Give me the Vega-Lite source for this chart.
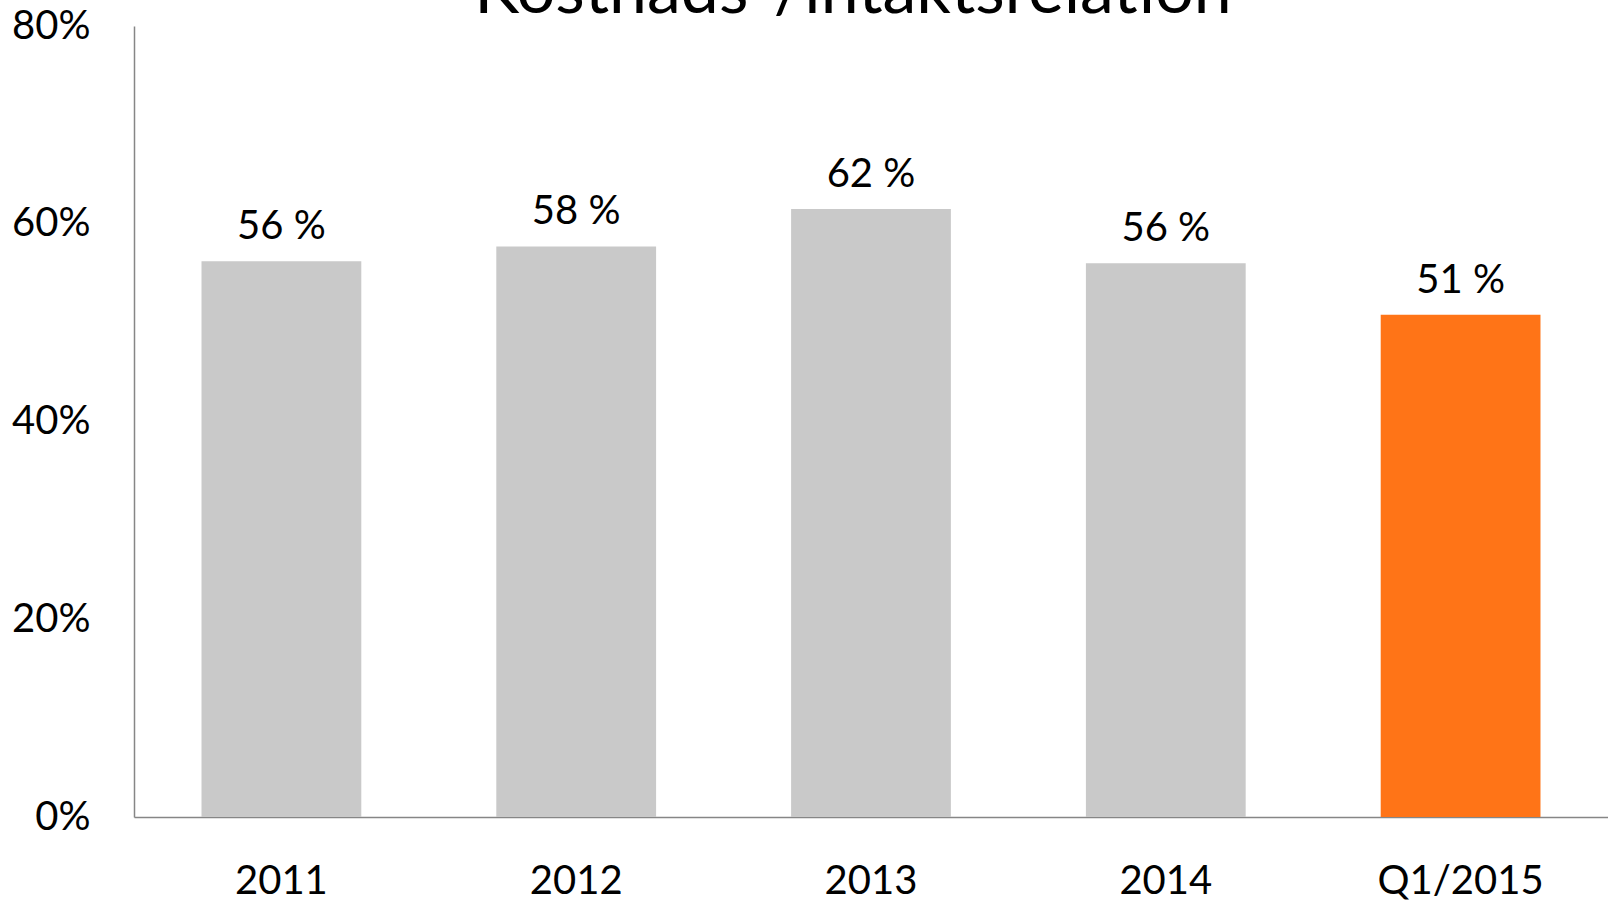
{
  "$schema": "https://vega.github.io/schema/vega-lite/v6.json",
  "width": 1474,
  "height": 791,
  "autosize": {"type": "none"},
  "padding": {"left": 134, "top": 26, "right": 0, "bottom": 84},
  "background": "white",
  "config": {
    "view": {"stroke": null},
    "font": "Lato"
  },
  "layer": [
    {
      "data": {
        "values": [
          {"period": "2011", "ratio": 0.562, "label": "56 %", "kind": "year"},
          {"period": "2012", "ratio": 0.577, "label": "58 %", "kind": "year"},
          {"period": "2013", "ratio": 0.615, "label": "62 %", "kind": "year"},
          {"period": "2014", "ratio": 0.560, "label": "56 %", "kind": "year"},
          {"period": "Q1/2015", "ratio": 0.508, "label": "51 %", "kind": "quarter"}
        ]
      },
      "encoding": {
        "x": {
          "field": "period",
          "type": "nominal",
          "sort": null,
          "scale": {"paddingInner": 0.458, "paddingOuter": 0.229},
          "axis": {
            "title": null,
            "labelAngle": 0,
            "labelFont": "Lato",
            "labelFontSize": 40,
            "labelColor": "#000000",
            "labelPadding": 44,
            "ticks": false,
            "domainColor": "#868686",
            "domainWidth": 1.5
          }
        },
        "y": {
          "field": "ratio",
          "type": "quantitative",
          "scale": {"domain": [0, 0.8], "nice": false},
          "axis": {
            "title": null,
            "values": [0, 0.2, 0.4, 0.6, 0.8],
            "format": ".0%",
            "grid": false,
            "ticks": false,
            "labelFont": "Lato",
            "labelFontSize": 40,
            "labelColor": "#000000",
            "labelPadding": 44,
            "domainColor": "#868686",
            "domainWidth": 1.5
          }
        }
      },
      "layer": [
        {
          "mark": {"type": "bar"},
          "encoding": {
            "color": {
              "field": "kind",
              "type": "nominal",
              "scale": {"domain": ["year", "quarter"], "range": ["#c9c9c9", "#ff7417"]},
              "legend": null
            }
          }
        },
        {
          "mark": {"type": "text", "baseline": "alphabetic", "dy": -22, "font": "Lato", "fontSize": 40, "color": "#000000"},
          "encoding": {
            "text": {"field": "label", "type": "nominal"}
          }
        }
      ]
    },
    {
      "data": {"values": [{"title": "Kostnads-/intäktsrelation", "period": "2013", "top": 0.8}]},
      "mark": {"type": "text", "baseline": "alphabetic", "align": "center", "dy": -13, "dx": -18, "font": "Lato", "fontSize": 68, "color": "#000000"},
      "encoding": {
        "x": {"field": "period", "type": "nominal"},
        "y": {"field": "top", "type": "quantitative"},
        "text": {"field": "title", "type": "nominal"}
      }
    }
  ]
}
